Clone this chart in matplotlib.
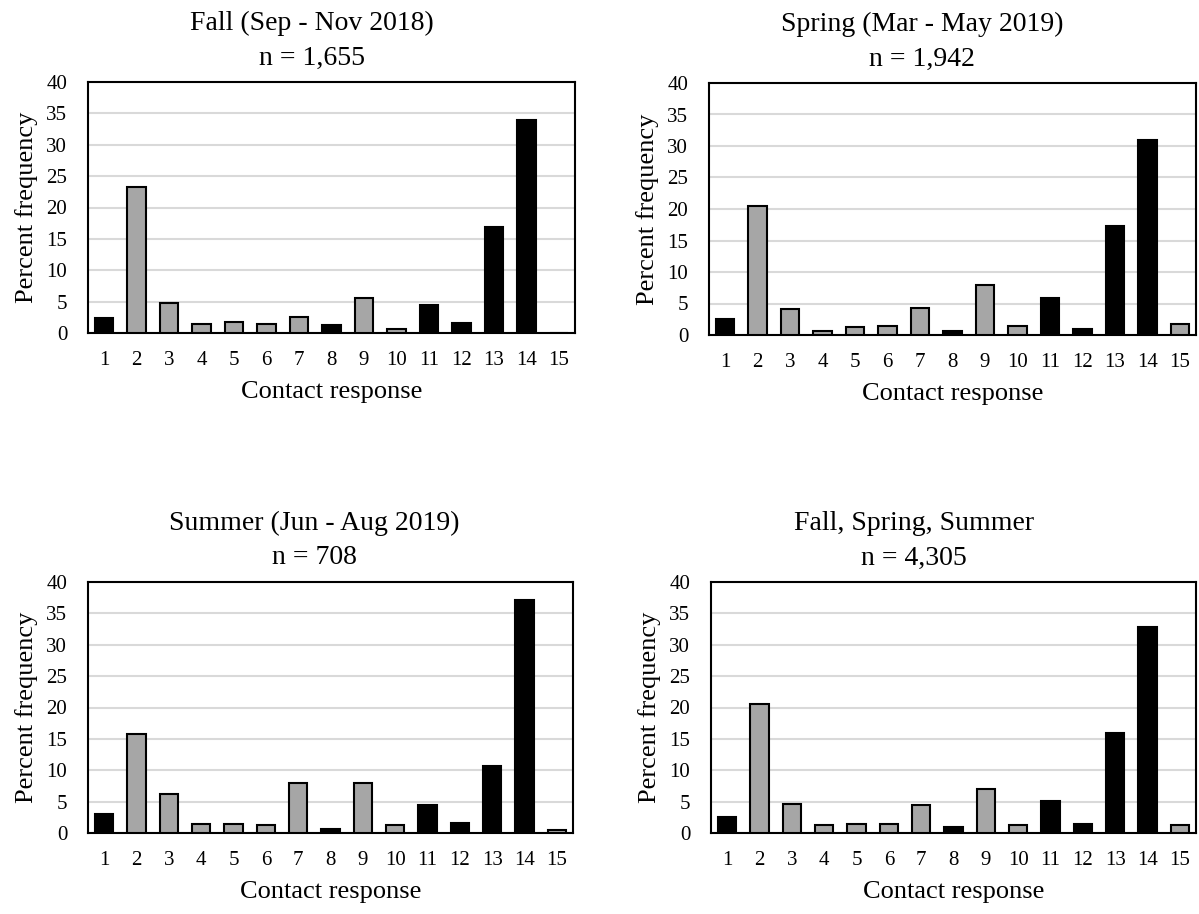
import matplotlib.pyplot as plt
import numpy as np

plt.rcParams['font.family'] = ['Liberation Serif', 'DejaVu Serif']

responses = list(range(1, 16))

fall = [2.4, 23.2, 4.8, 1.5, 1.7, 1.5, 2.5, 1.2, 5.6, 0.7, 4.4, 1.6, 16.9, 34.0, 0.0]
spring = [2.6, 20.4, 4.2, 0.7, 1.3, 1.5, 4.3, 0.7, 8.0, 1.5, 5.8, 1.0, 17.3, 30.9, 1.7]
summer = [3.0, 15.8, 6.2, 1.5, 1.5, 1.2, 8.0, 0.6, 8.0, 1.2, 4.4, 1.6, 10.7, 37.2, 0.4]
combined = [2.6, 20.5, 4.6, 1.2, 1.5, 1.5, 4.4, 1.0, 7.0, 1.2, 5.1, 1.4, 16.0, 32.9, 1.2]

# responses drawn in black, the rest grey
black_responses = [1, 8, 11, 12, 13, 14]

titles = ['Fall (Sep - Nov 2018)', 'Spring (Mar - May 2019)',
          'Summer (Jun - Aug 2019)', 'Fall, Spring, Summer']
counts = ['n = 1,655', 'n = 1,942', 'n = 708', 'n = 4,305']
series = [fall, spring, summer, combined]

# axes boxes in pixels (left, top, right, bottom) and title centre x
W, H = 1199, 914
boxes = [(88, 82, 575, 333), (709, 83, 1196, 335),
         (88, 582, 573, 833), (711, 582, 1196, 833)]
title_x = [312, 922, 314, 914]

fig = plt.figure(figsize=(11.99, 9.14), dpi=100)
colors = ['black' if r in black_responses else '#a6a6a6' for r in responses]

for (x0, y0, x1, y1), vals, title, cnt, tx in zip(boxes, series, titles, counts, title_x):
    ax = fig.add_axes([x0 / W, 1 - y1 / H, (x1 - x0) / W, (y1 - y0) / H])
    ax.bar(responses, vals, width=0.57, color=colors, edgecolor='black', linewidth=1.5, zorder=3)
    ax.set_xlim(0.5, 15.5)
    ax.set_ylim(0, 40)
    ax.set_yticks(range(0, 41, 5))
    ax.set_xticks(responses)
    ax.tick_params(length=0, labelsize=15)
    ax.tick_params(axis='x', pad=13)
    ax.tick_params(axis='y', pad=15)
    ax.yaxis.grid(True, color='#d9d9d9', linewidth=1.5, zorder=0)
    for s in ax.spines.values():
        s.set_linewidth(1.5)
    ax.set_ylabel('Percent frequency', fontsize=19, labelpad=6)
    ax.set_xlabel('Contact response', fontsize=19, labelpad=8)
    # two-line heading above each panel
    fig.text(tx / W, 1 - (y0 - 59) / H, title, fontsize=20, ha='center', va='center')
    fig.text(tx / W, 1 - (y0 - 24) / H, cnt, fontsize=20, ha='center', va='center')

fig.savefig('out.png', dpi=100)
